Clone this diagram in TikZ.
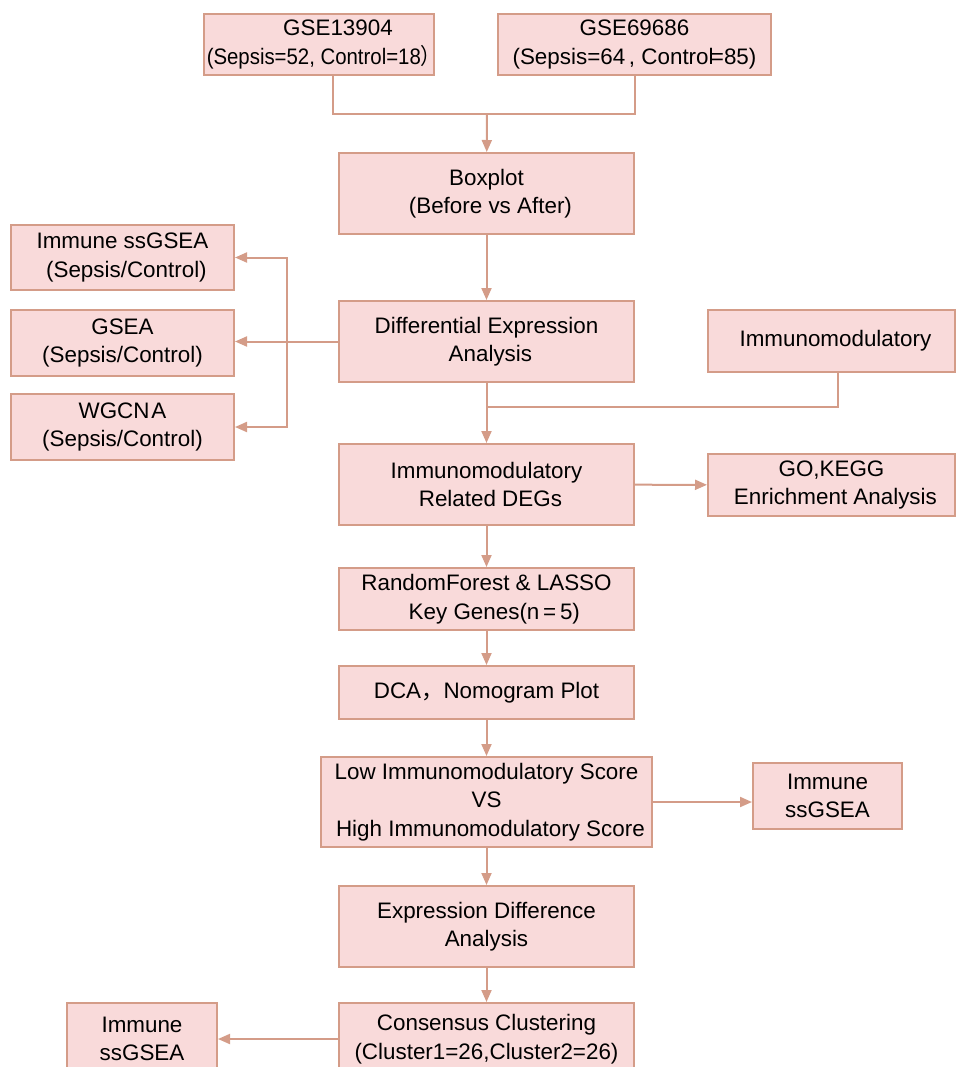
\documentclass[tikz,border=0pt]{standalone}
\usepackage{fontspec}
\setmainfont{Liberation Sans}
\newfontfamily\cjk{Noto Sans CJK SC}
\usetikzlibrary{arrows.meta}
\definecolor{boxfill}{RGB}{249,218,218}
\definecolor{boxline}{RGB}{212,156,136}
\newcommand{\lead}{\hspace*{0.35em}}
\begin{document}
\begin{tikzpicture}[x=0.5pt, y=-0.5pt,
    stage/.style={rectangle, draw=boxline, fill=boxfill, line width=1pt, align=center, inner sep=0pt,
        font=\fontsize{11.2}{14.2}\selectfont},
    link/.style={draw=boxline, line width=1pt},
    flow/.style={link, -{Triangle[length=6pt,width=5pt]}}]
    \useasboundingbox (0,0) rectangle (956,1067);
    \clip (0,0) rectangle (956,1067);

    % data sets
    \node [stage, minimum width=115pt, minimum height=30.5pt] (gseA) at (319,44.5) {\hspace*{19pt}GSE13904\\\scalebox{0.91}[1]{(Sepsis=52, Control=18{\cjk ）}}\kern-0.45em};
    \node [stage, minimum width=136.5pt, minimum height=30.5pt] (gseB) at (634.5,44.5) {GSE69686\\(Sepsis=64\,, Control\kern-0.12em=85)};
    \coordinate (join) at (487,114);

    % main column
    \begin{scope}[every node/.style={stage, minimum width=147.5pt, minimum height=40.5pt}]
        \node (box) at (486.5,193.5) {Boxplot\\\lead(Before vs After)};
        \node (dea) at (486.5,341.5) {Differential Expression\\\lead Analysis};
        \node (degs) at (486.5,484.5) {Immunomodulatory\\\lead Related DEGs};
        \node [minimum height=31pt] (rf) at (486.5,599) {RandomForest \& LASSO\\\lead\lead Key Genes(n{\,}={\,}5)};
        \node [minimum height=26.5pt] (dca) at (486.5,692.5) {DCA{\cjk ，}Nomogram Plot};
        \node [minimum width=165.5pt, minimum height=45pt] (score) at (486.5,802) {Low Immunomodulatory Score\\VS\\\lead High Immunomodulatory Score};
        \node (eda) at (486.5,926.5) {Expression Difference\\Analysis};
        \node [minimum height=36pt] (cons) at (486.5,1039) {Consensus Clustering\\(Cluster1=26,Cluster2=26)};
    \end{scope}

    % side boxes
    \begin{scope}[every node/.style={stage, minimum width=111.5pt, minimum height=33pt}]
        \node [minimum height=32.5pt] (ssgA) at (122.5,257.5) {Immune ssGSEA\\\lead(Sepsis/Control)};
        \node (gsea) at (122.5,343) {GSEA\\(Sepsis/Control)};
        \node (wgcna) at (122.5,427) {WGCN{\kern0.08em}A\\(Sepsis/Control)};
    \end{scope}
    \begin{scope}[every node/.style={stage, minimum width=123.5pt, minimum height=31pt}]
        \node (immu) at (831.5,341) {\lead Immunomodulatory};
        \node (gokegg) at (831.5,485) {GO,KEGG\\\lead Enrichment Analysis};
    \end{scope}
    \node [stage, minimum width=74.5pt, minimum height=33pt] (ssgB) at (827.5,796) {Immune\\ssGSEA};
    \node [stage, minimum width=75pt, minimum height=36pt] (ssgC) at (142,1039) {Immune\\ssGSEA};
    \coordinate (spine) at (287,343);
    \coordinate (merge) at (487,407);

    % connectors
    \draw [link] ([xshift=7pt]gseA.south) |- (join) -| (gseB.south);
    \draw [flow] (join) -- (box);
    \draw [flow] (box) -- (dea);
    \draw [flow] (dea.west) -- (dea.west -| gsea.east);
    \draw [flow] (spine) |- (ssgA.east);
    \draw [flow] (spine) |- (wgcna.east);
    \draw [link] ([xshift=3pt]immu.south) |- (merge);
    \draw [flow] (dea) -- (degs);
    \draw [flow] (degs) -- (gokegg);
    \draw [flow] (degs) -- (rf);
    \draw [flow] (rf) -- (dca);
    \draw [flow] (dca) -- (score);
    \draw [flow] (score.east) -- (score.east -| ssgB.west);
    \draw [flow] (score) -- (eda);
    \draw [flow] (eda) -- (cons);
    \draw [flow] (cons) -- (ssgC);
\end{tikzpicture}
\end{document}
